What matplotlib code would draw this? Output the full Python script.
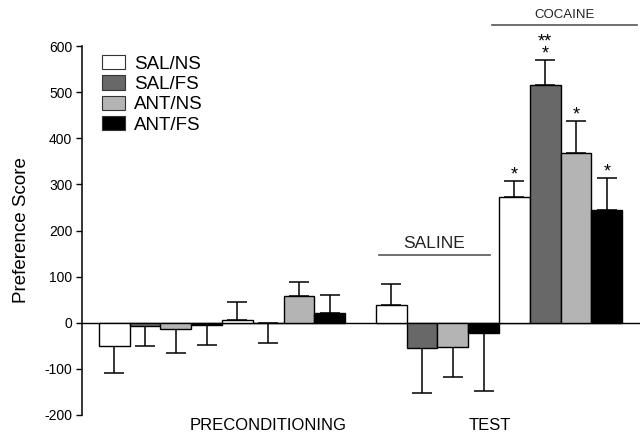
import matplotlib
matplotlib.use("Agg")
import matplotlib.pyplot as plt
from matplotlib.patches import Patch
import numpy as np

plt.rcParams['font.family'] = ['Liberation Sans', 'DejaVu Sans']
plt.rcParams['axes.unicode_minus'] = False

series = ['SAL/NS', 'SAL/FS', 'ANT/NS', 'ANT/FS']
colors = ['#ffffff', '#686868', '#b4b4b4', '#000000']

# Preconditioning (two sets of four groups)
precond_a = [-50, -6, -13, -4]
precond_a_err = [60, 44, 52, 44]
precond_b = [6, -1, 57, 22]
precond_b_err = [40, 43, 32, 39]
# Test: saline and cocaine
test_saline = [39, -55, -52, -22]
test_saline_err = [45, 97, 66, 125]
test_cocaine = [273, 515, 367, 244]
test_cocaine_err = [34, 54, 70, 69]
cocaine_stars = ['*', '**\n*', '*', '*']

phase_labels = ['PRECONDITIONING', 'TEST']
bracket_labels = ['SALINE', 'COCAINE']
yticks = [-200, -100, 0, 100, 200, 300, 400, 500, 600]

fig = plt.figure(figsize=(6.43, 4.33), dpi=100)
W, H = 643, 433
ax = fig.add_axes([82 / W, (H - 415) / H, (640 - 82) / W, (415 - 46) / H])

blocks = [(precond_a, precond_a_err, 0),
          (precond_b, precond_b_err, 4),
          (test_saline, test_saline_err, 9),
          (test_cocaine, test_cocaine_err, 13)]

for vals, errs, start in blocks:
    xs = np.arange(start, start + 4)
    ax.bar(xs, vals, width=1.0, color=colors, edgecolor='black', linewidth=1.0, zorder=3)
    lower = [e if v < 0 else 0 for v, e in zip(vals, errs)]
    upper = [e if v >= 0 else 0 for v, e in zip(vals, errs)]
    ax.errorbar(xs, vals, yerr=[lower, upper], fmt='none', ecolor='black',
                elinewidth=1.1, capsize=7, capthick=1.1, zorder=2)

# stars
for i, (v, e, s) in enumerate(zip(test_cocaine, test_cocaine_err, cocaine_stars)):
    ax.text(13 + i, v + e - 5, s, ha='center', va='bottom', fontsize=13,
            linespacing=0.6, zorder=4)

ax.axhline(0, color='black', linewidth=1.0, zorder=1)

# brackets
ax.plot([8.6, 12.2], [146, 146], color='#555555', lw=1.2, clip_on=False)
ax.text(10.4, 156, bracket_labels[0], ha='center', va='bottom', fontsize=12.5, color='#222222')
ax.plot([12.28, 16.98], [646, 646], color='#555555', lw=1.2, clip_on=False)
ax.text(14.63, 654, bracket_labels[1], ha='center', va='bottom', fontsize=9.5, color='#222222')

ax.set_xlim(-1.05, 17.08)
ax.set_ylim(-200, 600)
ax.set_yticks(yticks)
ax.tick_params(axis='y', labelsize=10, length=4, width=1, direction='out', pad=3)
ax.set_xticks([])
for sp in ['top', 'right', 'bottom']:
    ax.spines[sp].set_visible(False)
ax.spines['left'].set_linewidth(1.1)
ax.set_ylabel('Preference Score', fontsize=13.5, labelpad=10)

# phase labels
ax.text(5.0, -222, phase_labels[0], ha='center', va='center', fontsize=12, clip_on=False)
ax.text(12.2, -222, phase_labels[1], ha='center', va='center', fontsize=12, clip_on=False)

handles = [Patch(facecolor=c, edgecolor='#333333', linewidth=0.8) for c in colors]
ax.legend(handles, series, loc='upper left', bbox_to_anchor=(102 / W, (H - 55) / H),
          bbox_transform=fig.transFigure, frameon=False, fontsize=13.5,
          handlelength=1.25, handleheight=0.8, labelspacing=0.14, handletextpad=0.45,
          borderaxespad=0, borderpad=0)

fig.savefig('out.png', dpi=100)
